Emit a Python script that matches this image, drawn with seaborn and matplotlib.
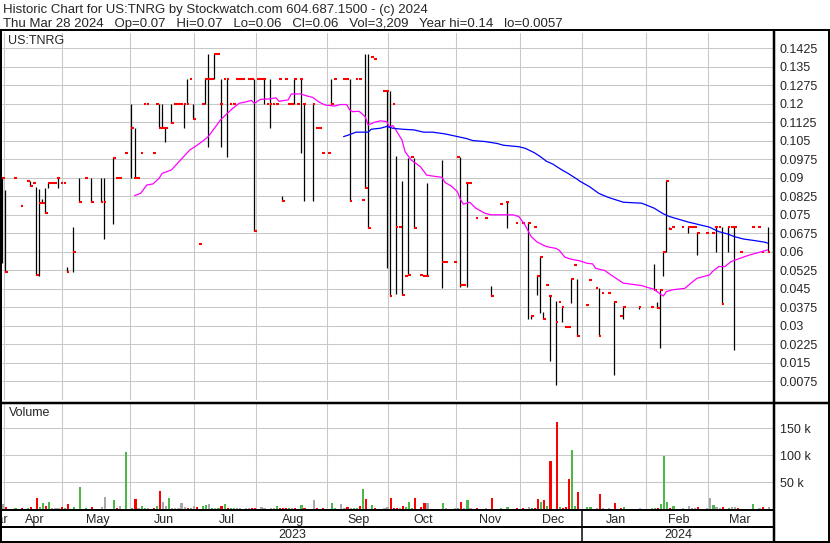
import numpy as np
import pandas as pd
import matplotlib.pyplot as plt
import seaborn as sns
from matplotlib.lines import Line2D

# ──────────────────────────────────────────────
# DATA  (x = trading-day index, 0 = Mon Mar 27 2023)
# ──────────────────────────────────────────────

bar_day = [4, 5, 8, 10, 12, 13, 14, 15, 16, 17, 18, 19, 20, 21, 22, 23, 24, 25, 27, 29,
           31, 33, 36, 37, 40, 41, 42, 44, 46, 47, 48, 49, 50, 51, 53, 54, 55, 56, 57, 59,
           60, 61, 62, 63, 64, 65, 66, 68, 69, 70, 71, 72, 73, 74, 75, 76, 77, 78, 79, 80,
           81, 82, 84, 85, 86, 87, 88, 89, 90, 91, 92, 93, 94, 95, 96, 97, 98, 99, 100, 101,
           102, 105, 106, 107, 108, 110, 111, 112, 115, 116, 117, 119, 120, 121, 122, 123, 124, 125, 128, 129,
           130, 131, 132, 133, 134, 135, 136, 137, 138, 140, 141, 142, 147, 148, 151, 152, 153, 154, 155, 156,
           158, 161, 163, 166, 168, 171, 173, 175, 176, 177, 178, 179, 180, 181, 182, 184, 185, 186, 187, 188,
           189, 190, 191, 194, 195, 197, 198, 199, 201, 203, 205, 206, 211, 215, 216, 217, 218, 219, 220, 221,
           222, 225, 227, 228, 229, 230, 233, 235, 236, 237, 238, 240, 241, 242, 244, 248, 250, 251, 253]
bar_hi = [0.09, 0.085, 0.09, 0.0787, 0.0889, 0.0889, 0.088, 0.0863, 0.0855, 0.0813, 0.086, 0.088, 0.088, 0.088, 0.09, 0.088, 0.088, 0.054, 0.07, 0.09,
          0.09, 0.09, 0.09, 0.09, 0.098, 0.09, 0.09, 0.10, 0.12, 0.11, 0.09, 0.10, 0.12, 0.12, 0.10, 0.12, 0.12, 0.12, 0.11, 0.12,
          0.12, 0.12, 0.12, 0.12, 0.13, 0.13, 0.12, 0.063, 0.12, 0.13, 0.14, 0.13, 0.14, 0.14, 0.13, 0.13, 0.13, 0.12, 0.12, 0.13,
          0.13, 0.13, 0.13, 0.13, 0.13, 0.13, 0.13, 0.13, 0.12, 0.13, 0.12, 0.12, 0.13, 0.0828, 0.13, 0.12, 0.12, 0.13, 0.12, 0.13,
          0.12, 0.12, 0.11, 0.11, 0.10, 0.10, 0.13, 0.13, 0.13, 0.13, 0.13, 0.13, 0.13, 0.081, 0.14, 0.14, 0.139, 0.138, 0.125, 0.125,
          0.125, 0.12, 0.099, 0.07, 0.0887, 0.05, 0.098, 0.0986, 0.098, 0.0506, 0.05, 0.088, 0.0972, 0.056, 0.056, 0.0986, 0.0986, 0.0466, 0.088, 0.088,
          0.0739, 0.0739, 0.0462, 0.0795, 0.08, 0.0718, 0.0718, 0.0718, 0.034, 0.0702, 0.05, 0.058, 0.0358, 0.0466, 0.0419, 0.0401, 0.0398, 0.0378, 0.0297, 0.0297,
          0.0489, 0.0547, 0.0489, 0.0385, 0.0486, 0.0455, 0.0455, 0.0435, 0.0435, 0.0398, 0.034, 0.0378, 0.0378, 0.0378, 0.0551, 0.0398, 0.0446, 0.06, 0.0887, 0.07,
          0.07, 0.07, 0.07, 0.07, 0.07, 0.0678, 0.0678, 0.0678, 0.07, 0.07, 0.07, 0.07, 0.07, 0.07, 0.06, 0.07, 0.07, 0.06, 0.07]
bar_lo = [0.0555, 0.052, 0.09, 0.0787, 0.0889, 0.0868, 0.088, 0.0506, 0.05, 0.0798, 0.0758, 0.086, 0.088, 0.088, 0.086, 0.088, 0.088, 0.052, 0.052, 0.08,
          0.09, 0.08, 0.08, 0.0651, 0.0712, 0.09, 0.09, 0.10, 0.09, 0.09, 0.09, 0.10, 0.12, 0.12, 0.10, 0.12, 0.11, 0.11, 0.1047, 0.1122,
          0.12, 0.12, 0.12, 0.11, 0.12, 0.13, 0.1139, 0.063, 0.12, 0.12, 0.1024, 0.13, 0.13, 0.14, 0.1024, 0.13, 0.0986, 0.12, 0.12, 0.13,
          0.13, 0.13, 0.13, 0.13, 0.0686, 0.13, 0.13, 0.12, 0.12, 0.11, 0.12, 0.12, 0.13, 0.0808, 0.13, 0.12, 0.12, 0.12, 0.12, 0.10,
          0.0808, 0.0808, 0.11, 0.11, 0.10, 0.10, 0.12, 0.13, 0.13, 0.13, 0.0808, 0.13, 0.13, 0.081, 0.086, 0.0698, 0.139, 0.138, 0.125, 0.0536,
          0.0419, 0.12, 0.043, 0.07, 0.0423, 0.05, 0.0506, 0.0986, 0.0698, 0.0506, 0.05, 0.05, 0.0455, 0.056, 0.056, 0.0986, 0.0459, 0.0466, 0.0459, 0.088,
          0.0739, 0.0739, 0.0419, 0.0795, 0.0698, 0.0718, 0.0718, 0.0329, 0.0327, 0.0702, 0.0423, 0.0351, 0.0329, 0.0466, 0.0159, 0.0059, 0.0398, 0.0317, 0.0297, 0.0297,
          0.0392, 0.0547, 0.026, 0.0385, 0.0486, 0.0455, 0.026, 0.0435, 0.0435, 0.01, 0.034, 0.0329, 0.0367, 0.0378, 0.0446, 0.0374, 0.0209, 0.05, 0.06, 0.0691,
          0.07, 0.07, 0.0678, 0.07, 0.07, 0.0587, 0.0678, 0.0678, 0.06, 0.07, 0.0389, 0.06, 0.07, 0.02, 0.06, 0.07, 0.07, 0.06, 0.06]
bar_cl = [0.09, 0.052, 0.09, 0.0787, 0.0889, 0.0868, 0.088, 0.0506, 0.0798, 0.0798, 0.0758, 0.088, 0.088, 0.088, 0.09, 0.088, 0.088, 0.052, 0.06, 0.08,
          0.09, 0.08, 0.08, 0.08, 0.098, 0.09, 0.09, 0.10, 0.11, 0.09, 0.09, 0.10, 0.12, 0.12, 0.10, 0.12, 0.11, 0.11, 0.11, 0.1122,
          0.12, 0.12, 0.12, 0.12, 0.12, 0.13, 0.1139, 0.063, 0.12, 0.13, 0.13, 0.13, 0.14, 0.14, 0.12, 0.13, 0.13, 0.12, 0.12, 0.13,
          0.13, 0.13, 0.13, 0.13, 0.0686, 0.13, 0.13, 0.13, 0.12, 0.12, 0.12, 0.12, 0.13, 0.0808, 0.13, 0.12, 0.12, 0.13, 0.12, 0.13,
          0.12, 0.12, 0.11, 0.11, 0.10, 0.10, 0.12, 0.13, 0.13, 0.13, 0.0808, 0.13, 0.13, 0.081, 0.086, 0.0698, 0.139, 0.138, 0.125, 0.125,
          0.0419, 0.12, 0.07, 0.07, 0.0423, 0.05, 0.0506, 0.0986, 0.0698, 0.0506, 0.05, 0.05, 0.056, 0.056, 0.056, 0.0986, 0.0466, 0.0466, 0.088, 0.088,
          0.0739, 0.0739, 0.0419, 0.0795, 0.08, 0.0718, 0.0718, 0.0718, 0.034, 0.0702, 0.05, 0.058, 0.0329, 0.0466, 0.0419, 0.0317, 0.0398, 0.0378, 0.0297, 0.0297,
          0.0489, 0.0547, 0.026, 0.0385, 0.0486, 0.0455, 0.026, 0.0435, 0.0435, 0.0398, 0.034, 0.0378, 0.0378, 0.0378, 0.0446, 0.0374, 0.0446, 0.06, 0.0887, 0.0691,
          0.07, 0.07, 0.07, 0.07, 0.07, 0.0678, 0.0678, 0.0678, 0.07, 0.07, 0.0389, 0.07, 0.07, 0.07, 0.06, 0.07, 0.07, 0.06, 0.06]

# moving averages
ma_fast_day = [47, 49, 51, 53, 55, 56, 59, 61, 63, 65, 67, 69, 71, 73, 75, 77, 79, 81, 83, 85,
               86, 87, 88, 91, 93, 94, 97, 98, 101, 103, 105, 107, 109, 112, 114, 116, 117, 118, 120, 122,
               123, 125, 127, 129, 130, 131, 132, 134, 135, 137, 140, 142, 144, 147, 148, 150, 152, 153, 154, 156,
               158, 161, 163, 167, 170, 172, 174, 176, 178, 181, 184, 185, 187, 189, 192, 194, 196, 197, 200, 202,
               206, 209, 212, 214, 216, 218, 219, 220, 222, 226, 228, 230, 234, 235, 237, 239, 241, 244, 247, 250, 253]
ma_fast = [0.0828, 0.0837, 0.0871, 0.0875, 0.0898, 0.0918, 0.0932, 0.0959, 0.0986, 0.1013, 0.1029, 0.1047, 0.1067, 0.1101, 0.1135, 0.1159, 0.1182, 0.1202, 0.1207, 0.1214,
           0.1202, 0.121, 0.1218, 0.122, 0.1224, 0.121, 0.1216, 0.124, 0.124, 0.1232, 0.1226, 0.1207, 0.1195, 0.1191, 0.1197, 0.1197, 0.1175, 0.1168, 0.117, 0.1148,
           0.1114, 0.1125, 0.1131, 0.1128, 0.1105, 0.1112, 0.1094, 0.1053, 0.1006, 0.0972, 0.0945, 0.0911, 0.0907, 0.0902, 0.0881, 0.0867, 0.0844, 0.0813, 0.0793, 0.0801,
           0.0777, 0.0756, 0.075, 0.075, 0.075, 0.0743, 0.0709, 0.0662, 0.0639, 0.0621, 0.0614, 0.0608, 0.0578, 0.057, 0.0563, 0.0554, 0.0551, 0.0533, 0.0524, 0.0506,
           0.0473, 0.0468, 0.0463, 0.0455, 0.0448, 0.0429, 0.0421, 0.0439, 0.0446, 0.0452, 0.0473, 0.0493, 0.0506, 0.052, 0.054, 0.054, 0.056, 0.0574, 0.0587, 0.0597, 0.0608]

ma_slow_day = [115, 117, 119, 123, 124, 127, 129, 131, 134, 138, 141, 144, 148, 151, 155, 157, 161, 165, 167, 172,
               174, 177, 179, 181, 183, 186, 188, 191, 192, 195, 198, 201, 206, 212, 214, 216, 219, 221, 224, 227,
               231, 234, 237, 240, 242, 245, 249, 252, 253]
ma_slow = [0.1067, 0.1075, 0.1085, 0.1085, 0.1097, 0.1101, 0.1108, 0.1101, 0.1097, 0.1094, 0.1085, 0.1085, 0.1078, 0.107, 0.1059, 0.1051, 0.1047, 0.1039, 0.1032, 0.1026,
           0.102, 0.1002, 0.0986, 0.0967, 0.0956, 0.0932, 0.0918, 0.0894, 0.0885, 0.0864, 0.0837, 0.0821, 0.0801, 0.0797, 0.0787, 0.0777, 0.0754, 0.0743, 0.0732, 0.0721,
           0.0709, 0.07, 0.0682, 0.0672, 0.0662, 0.0652, 0.0645, 0.0639, 0.0635]

# volume (thousands of shares) and bar type: u = up, d = down, n = unchanged
vol_day = [4, 5, 8, 10, 12, 13, 15, 16, 17, 18, 19, 20, 21, 22, 23, 24, 25, 27, 29, 31,
           33, 36, 37, 40, 41, 42, 44, 46, 47, 48, 49, 50, 51, 53, 54, 55, 56, 57, 58, 59,
           60, 61, 62, 63, 64, 65, 66, 67, 69, 70, 71, 72, 73, 74, 75, 76, 77, 78, 79, 80,
           81, 83, 84, 85, 86, 88, 89, 91, 92, 93, 94, 95, 96, 97, 98, 99, 101, 102, 105, 106,
           108, 111, 112, 114, 115, 116, 117, 118, 119, 120, 121, 122, 124, 125, 128, 129, 130, 131, 132, 133,
           134, 135, 136, 137, 138, 140, 141, 142, 147, 148, 151, 152, 153, 154, 155, 156, 158, 161, 163, 166,
           168, 171, 173, 175, 176, 177, 178, 179, 180, 181, 182, 184, 185, 186, 187, 188, 189, 190, 191, 194,
           195, 197, 198, 199, 201, 203, 205, 206, 211, 215, 216, 217, 218, 219, 220, 221, 222, 225, 227, 228,
           229, 230, 233, 234, 235, 236, 237, 238, 240, 241, 242, 243, 248, 250, 251, 253]
vol_k = [9, 4, 2.4, 2.4, 2.4, 4, 21, 4, 11.7, 6, 13.5, 2.4, 2.4, 2.4, 4, 2.4, 9.8, 4, 41, 2.4,
         4, 4, 22.8, 17.2, 2.4, 6, 107, 2.4, 19, 2.4, 6, 2.4, 2.4, 2.4, 6, 34, 13, 6, 21, 2.4,
         2.4, 2.4, 11.7, 4, 2.4, 2.4, 6, 4, 6, 8, 9.8, 2.4, 2.4, 2.4, 6, 9.8, 2.4, 2.4, 2.4, 2.4,
         2.4, 2.4, 2.4, 2.4, 2.4, 4, 2.4, 2.4, 2.4, 6, 2.4, 2.4, 2.4, 2.4, 2.4, 2.4, 8, 2.4, 17.2, 2.4,
         2.4, 11.7, 2.4, 9.8, 2.4, 4, 2.4, 2.4, 2.4, 6, 37.6, 19, 8, 2.4, 2.4, 4, 21, 2.4, 2.4, 2.4,
         6, 4, 13.5, 2.4, 21, 4, 11.7, 11.7, 11.7, 2.4, 2.4, 2.4, 13.5, 2.4, 17.2, 2.4, 2.4, 2.4, 21, 2.4,
         4, 2.4, 2.4, 4, 2.4, 2.4, 19, 13.5, 17.2, 6, 89, 162, 4, 2.4, 4, 56, 110, 6, 32, 4,
         4, 2.4, 28, 2.4, 2.4, 11.7, 2.4, 4, 2.4, 2.4, 2.4, 2.4, 9.8, 98.5, 13.5, 2.4, 6, 2.4, 6, 2.4,
         2.4, 4, 2.4, 21, 8, 4, 2.4, 4, 2.4, 4, 4, 2.4, 9.8, 2.4, 4, 4]
vol_kind = ["n", "d", "u", "d", "u", "d", "d", "u", "u", "d", "u", "n", "n", "n", "d", "u", "d", "u", "u", "u",
            "d", "n", "n", "u", "d", "n", "u", "u", "d", "n", "u", "u", "n", "d", "u", "d", "n", "n", "u", "n",
            "n", "n", "n", "n", "d", "u", "n", "d", "u", "u", "n", "u", "n", "u", "d", "u", "d", "u", "u", "n",
            "n", "n", "n", "d", "d", "n", "n", "n", "n", "u", "d", "d", "d", "u", "n", "d", "u", "d", "n", "d",
            "d", "u", "u", "n", "n", "d", "n", "u", "u", "d", "u", "d", "u", "d", "n", "n", "d", "d", "d", "n",
            "d", "u", "u", "u", "d", "d", "d", "n", "u", "n", "n", "u", "d", "n", "u", "n", "d", "n", "d", "u",
            "u", "d", "d", "n", "u", "d", "d", "u", "d", "u", "d", "d", "u", "d", "d", "d", "u", "u", "d", "u",
            "u", "n", "d", "n", "n", "d", "d", "u", "n", "n", "u", "d", "u", "u", "u", "d", "u", "n", "n", "n",
            "n", "d", "n", "n", "u", "n", "n", "d", "u", "n", "n", "d", "u", "n", "d", "n"]

price_ticks = [0.1425, 0.135, 0.1275, 0.12, 0.1125, 0.105, 0.0975, 0.09, 0.0825, 0.075,
               0.0675, 0.06, 0.0525, 0.045, 0.0375, 0.03, 0.0225, 0.015, 0.0075]
price_tick_labels = ["0.1425", "0.135", "0.1275", "0.12", "0.1125", "0.105", "0.0975", "0.09", "0.0825", "0.075",
                     "0.0675", "0.06", "0.0525", "0.045", "0.0375", "0.03", "0.0225", "0.015", "0.0075"]
vol_ticks = [50, 100, 150]
vol_tick_labels = ["50 k", "100 k", "150 k"]

month_names = ["Mar", "Apr", "May", "Jun", "Jul", "Aug", "Sep", "Oct", "Nov", "Dec", "Jan", "Feb", "Mar"]
month_start = [-17, 5, 24, 46, 67, 87, 110, 130, 152, 173, 193, 214, 234, 254]
year_names = ["2023", "2024"]

title1 = "Historic Chart for US:TNRG by Stockwatch.com 604.687.1500 - (c) 2024"
title2 = "Thu Mar 28 2024   Op=0.07   Hi=0.07   Lo=0.06   Cl=0.06   Vol=3,209   Year hi=0.14   lo=0.0057"

# ──────────────────────────────────────────────
# STYLE
# ──────────────────────────────────────────────

sns.set_style("white")
plt.rcParams["font.family"] = ["Liberation Sans", "DejaVu Sans"]

W, H = 830, 543
GRID = "#C8C8C8"
COLORS = {"u": "#4CB84C", "d": "#FF0000", "n": "#A8A8A8"}


def fx(px):
    return px / W


def fy(py):
    return 1 - py / H


def frame_line(x0, y0, x1, y1, lw_px=2.0, color="black"):
    fig.add_artist(Line2D([fx(x0), fx(x1)], [fy(y0), fy(y1)], transform=fig.transFigure,
                          color=color, lw=lw_px * 0.72, solid_capstyle="butt"))


fig = plt.figure(figsize=(W / 100, H / 100), dpi=100)
XLIM = (3.9, 255.0)

# ── price panel
axp = fig.add_axes([fx(2), fy(400), fx(774) - fx(2), fy(33) - fy(400)])
axp.set_xlim(*XLIM)
axp.set_ylim(-0.00007, 0.1487)
axp.set_axisbelow(True)
axp.set_xticks([m - 0.5 for m in month_start[1:-1]])
axp.set_yticks(price_ticks)
axp.set_yticklabels(price_tick_labels)
axp.grid(True, color=GRID, lw=0.75)
axp.tick_params(axis="x", length=0, labelbottom=False)
axp.tick_params(axis="y", length=0, left=False, labelleft=False, right=False, labelright=True,
                pad=4, labelsize=9)
for s in axp.spines.values():
    s.set_visible(False)

axp.vlines(bar_day, bar_lo, bar_hi, color="black", lw=0.9)
axp.hlines(bar_cl, np.array(bar_day) - 0.05, np.array(bar_day) + 0.85, color="#FF0000", lw=1.5)

sns.lineplot(x=ma_fast_day, y=ma_fast, ax=axp, color="#FF00FF", lw=0.9, estimator=None, sort=False)
sns.lineplot(x=ma_slow_day, y=ma_slow, ax=axp, color="#0000FF", lw=0.9, estimator=None, sort=False)
axp.set_xlim(*XLIM)
axp.set_xlabel("")
axp.set_ylabel("")

# ── volume panel
axv = fig.add_axes([fx(2), fy(509.5), fx(774) - fx(2), fy(403) - fy(509.5)])
df_vol = pd.DataFrame({"day": vol_day, "vol": vol_k, "kind": vol_kind})
axv.bar(df_vol["day"] + 0.3, df_vol["vol"], width=0.7,
        color=df_vol["kind"].map(COLORS), linewidth=0)
axv.set_xlim(*XLIM)
axv.set_ylim(-0.4, 196.9)
axv.set_axisbelow(True)
axv.set_xticks([m - 0.5 for m in month_start[1:-1]])
axv.set_yticks(vol_ticks)
axv.set_yticklabels(vol_tick_labels)
axv.grid(True, color=GRID, lw=0.75)
axv.tick_params(axis="x", length=0, labelbottom=False)
axv.tick_params(axis="y", length=0, left=False, labelleft=False, right=False, labelright=True,
                pad=4, labelsize=9)
for s in axv.spines.values():
    s.set_visible(False)

# ── month row
axm = fig.add_axes([fx(2), fy(526.5), fx(774) - fx(2), fy(511) - fy(526.5)])
axm.set_xlim(*XLIM)
axm.set_ylim(0, 1)
axm.axis("off")
for name, a, b in zip(month_names, month_start[:-1], month_start[1:]):
    mid = (a + b) / 2 if a > 0 else 2.3
    axm.text(mid, 0.45, name, ha="center", va="center", fontsize=9, clip_on=True)

# ── texts
fig.text(fx(3), fy(9.5), title1, fontsize=9.5, va="center", ha="left")
fig.text(fx(3), fy(23.5), title2, fontsize=9.5, va="center", ha="left")
fig.text(fx(8), fy(41), "US:TNRG", fontsize=9, va="center", ha="left")
fig.text(fx(9), fy(413), "Volume", fontsize=9, va="center", ha="left")
fig.text(fx(292), fy(535), year_names[0], fontsize=9, va="center", ha="center")
fig.text(fx(678), fy(535), year_names[1], fontsize=9, va="center", ha="center")

# ── frame lines
frame_line(0, 30.3, W, 30.3, 2)
frame_line(0, 402.5, W, 402.5, 2.5)
frame_line(0, 510.2, 774.5, 510.2, 2)
frame_line(0, 527.2, 774.5, 527.2, 2)
frame_line(0, 542, W, 542, 2)
frame_line(774.3, 30, 774.3, H, 2.5)
frame_line(828.5, 30, 828.5, H, 2)
frame_line(1, 30, 1, H, 2)
frame_line(582, 510, 582, H, 1.5)

fig.savefig("out.png", dpi=100)
